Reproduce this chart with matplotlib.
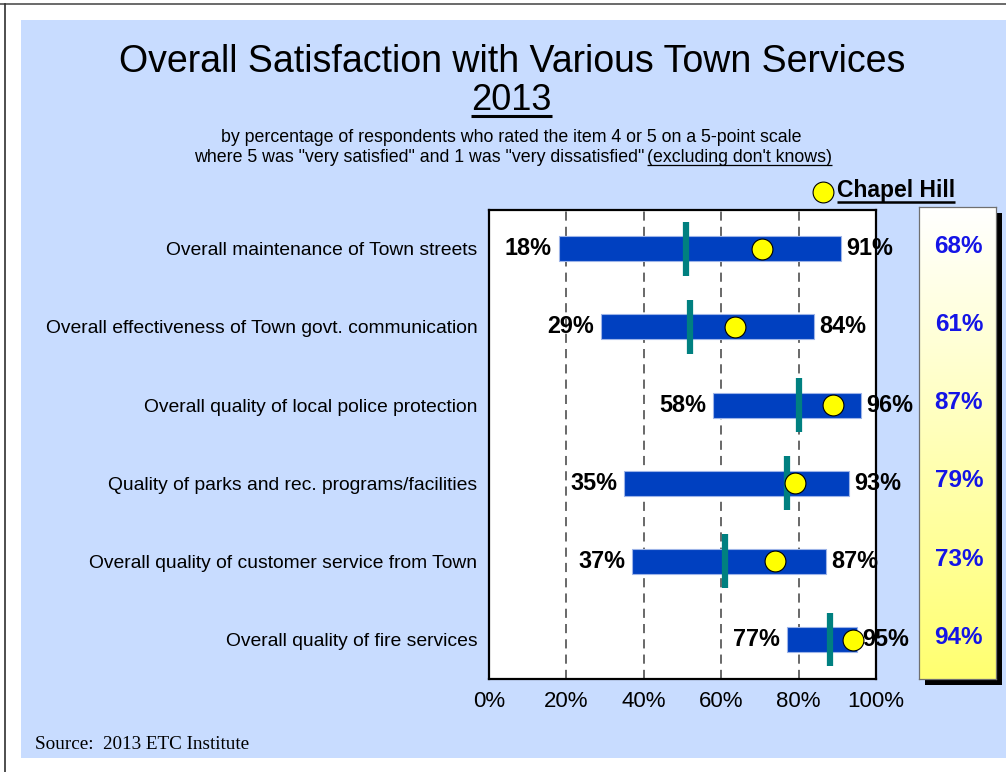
import numpy as np
import matplotlib
matplotlib.use('Agg')
import matplotlib.pyplot as plt
from matplotlib.patches import Rectangle
from matplotlib.lines import Line2D
from matplotlib.colors import LinearSegmentedColormap
import matplotlib.transforms as mtrans

# ---------------- data ----------------
categories = [
    "Overall maintenance of Town streets",
    "Overall effectiveness of Town govt. communication",
    "Overall quality of local police protection",
    "Quality of parks and rec. programs/facilities",
    "Overall quality of customer service from Town",
    "Overall quality of fire services",
]
low = [18, 29, 58, 35, 37, 77]
high = [91, 84, 96, 93, 87, 95]
median = [51, 52, 80, 77, 61, 88]            # teal marker
chapel_hill = [68, 61, 87, 79, 73, 94]       # values printed in the side panel
chapel_hill_dot = [70.5, 63.5, 89, 79, 74, 94]  # dot positions as drawn
xticks = [0, 20, 40, 60, 80, 100]
xtick_labels = ["0%", "20%", "40%", "60%", "80%", "100%"]

plt.rcParams['font.family'] = ['Liberation Sans', 'DejaVu Sans']

W, H = 1006, 772
def fx(x): return x / W
def fy(y): return 1 - y / H

fig = plt.figure(figsize=(W / 100, H / 100), dpi=100, facecolor='white')

# background panel and frame lines
fig.patches.append(Rectangle((fx(21), fy(758)), fx(1006) - fx(21), fy(20) - fy(758),
                             transform=fig.transFigure, fc='#C8DCFF', ec='none', zorder=-5))
fig.add_artist(Line2D([0, 1], [fy(4), fy(4)], transform=fig.transFigure, color='#505050', lw=1.2))
fig.add_artist(Line2D([fx(5), fx(5)], [fy(4), 0], transform=fig.transFigure, color='#303030', lw=1.2))

# ---------------- main axes ----------------
ax = fig.add_axes([fx(489), fy(678.6), (876 - 489) / W, (678.6 - 209.6) / H])
ax.set_facecolor('white')
y = np.arange(len(categories))
widths = [h - l for h, l in zip(high, low)]
ax.barh(y, widths, left=low, height=0.32, color='#0040C0', edgecolor='#9DB4E8', linewidth=0.8, zorder=3)
ax.vlines(median, y - 0.345, y + 0.345, color='#008080', lw=4.5, capstyle='butt', zorder=4)
ax.plot(chapel_hill_dot, y, ls='none', marker='o', ms=15, mfc='#FFFF00', mec='black', mew=0.8, zorder=5)

for yi, lo, hi in zip(y, low, high):
    ax.annotate(f"{lo}%", (lo, yi), xytext=(-5, 0), textcoords='offset points', ha='right', va='center',
                fontsize=16.8, fontweight='bold', color='black', zorder=6)
    ax.annotate(f"{hi}%", (hi, yi), xytext=(4, 0), textcoords='offset points', ha='left', va='center',
                fontsize=16.8, fontweight='bold', color='black', zorder=6, annotation_clip=False)

ax.set_xlim(0, 100)
ax.set_ylim(len(categories) - 0.5, -0.5)
ax.set_xticks(xticks)
ax.set_xticklabels(xtick_labels, fontsize=16)
ax.set_yticks(y)
ax.set_yticklabels(categories, fontsize=13.9)
ax.tick_params(axis='both', length=0)
ax.tick_params(axis='x', pad=9)
ax.tick_params(axis='y', pad=8.5)
for gx in xticks[1:-1]:
    ax.axvline(gx, color='#404040', lw=1.1, ls=(0, (6, 4)), zorder=1)
for s in ax.spines.values():
    s.set_linewidth(1.6)
    s.set_color('black')

# ---------------- Chapel Hill side panel ----------------
px0, px1, py0, py1 = 918.6, 996, 207.3, 679
fig.patches.append(Rectangle((fx(px0 + 6), fy(py1 + 6)), (px1 - px0) / W, (py1 - py0) / H,
                             transform=fig.transFigure, fc='black', ec='none', zorder=-1))
pax = fig.add_axes([fx(px0), fy(py1), (px1 - px0) / W, (py1 - py0) / H])
cmap = LinearSegmentedColormap.from_list('wy', ['#FFFFFF', '#FFFF70'])
pax.imshow(np.linspace(0, 1, 256).reshape(-1, 1), aspect='auto', cmap=cmap, extent=[0, 1, 0, 1], origin='upper')
pax.set_xlim(0, 1); pax.set_ylim(0, 1)
pax.set_xticks([]); pax.set_yticks([])
for s in pax.spines.values():
    s.set_linewidth(0.9); s.set_color('#707070')
trans = mtrans.blended_transform_factory(pax.transAxes, ax.transData)
for yi, v in zip(y, chapel_hill):
    pax.text(0.52, yi - 0.03, f"{v}%", transform=trans, ha='center', va='center',
             fontsize=17.5, fontweight='bold', color='#1414E6')

# legend
fig.add_artist(Line2D([fx(823)], [fy(191.5)], transform=fig.transFigure, ls='none', marker='o', ms=15,
                      mfc='#FFFF00', mec='black', mew=0.8))
t_ch = fig.text(fx(837), fy(190), "Chapel Hill", ha='left', va='center', fontsize=16.5, fontweight='bold')

# ---------------- titles ----------------
fig.text(fx(512.5), fy(62), "Overall Satisfaction with Various Town Services", ha='center', va='center',
         fontsize=27)
t_yr = fig.text(fx(511.5), fy(101), "2013", ha='center', va='center', fontsize=26)
fig.text(fx(511), fy(137), "by percentage of respondents who rated the item 4 or 5 on a 5-point scale",
         ha='center', va='center', fontsize=12.8)
fig.text(fx(644), fy(157), 'where 5 was "very satisfied" and 1 was "very dissatisfied"', ha='right', va='center',
         fontsize=12.8)
t_ex = fig.text(fx(647), fy(157), "(excluding don't knows)", ha='left', va='center', fontsize=12.8)

fig.text(fx(35), fy(749), "Source:  2013 ETC Institute", ha='left', va='baseline', fontsize=13.8,
         family=['Liberation Serif', 'DejaVu Serif'])

# underlines
fig.canvas.draw()
r = fig.canvas.get_renderer()
def underline(t, ypix, lw):
    bb = t.get_window_extent(r)
    fig.add_artist(Line2D([bb.x0 / W, bb.x1 / W], [fy(ypix), fy(ypix)], transform=fig.transFigure,
                          color='black', lw=lw, solid_capstyle='butt'))
underline(t_yr, 116, 2.2)
underline(t_ch, 202, 1.8)
underline(t_ex, 165, 0.9)

fig.savefig('out.png', dpi=100, facecolor='white')
